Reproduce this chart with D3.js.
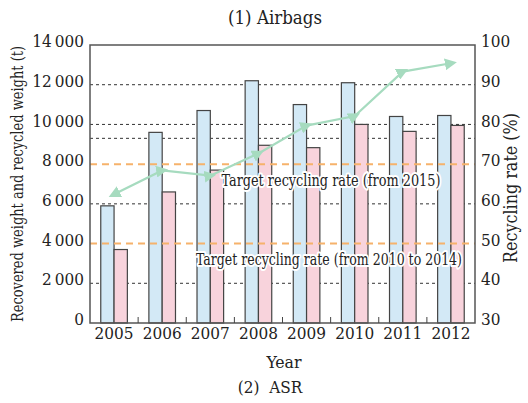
<!DOCTYPE html>
<html><head><meta charset="utf-8">
<script src="https://cdn.jsdelivr.net/npm/d3@7"></script>
<style>
body{margin:0;background:#fff;}
svg text{font-family:"DejaVu Serif",serif !important;font-stretch:condensed;fill:#222;}
</style></head>
<body><svg id="c" width="528" height="403"></svg>
<script>
const years = ["2005","2006","2007","2008","2009","2010","2011","2012"];
const recovered = [5900,9600,10700,12200,11000,12100,10400,10450];
const recycled = [3700,6600,7700,8950,8830,10000,9650,9950];
const rate = [62.4,68.4,67.1,72.7,79.7,82.1,93.3,95.4];
const leftTicks = [0,2000,4000,6000,8000,10000,12000,14000];
const rightTicks = [30,40,50,60,70,80,90,100];
const gridValues = [2000,6000,9300,10000,12000];
const targetValues = [8000,4000];
const targetLabels = ["Target recycling rate (from 2015)","Target recycling rate (from 2010 to 2014)"];

const svg = d3.select("#c");
const m = {l:90,r:475,t:45,b:323};
const x = d3.scaleBand().domain(years).range([m.l,m.r]);
const xi = d3.scaleBand().domain(["rec","cyc"]).range([0,26.6]);
const y = d3.scaleLinear().domain([0,14000]).range([m.b,m.t]);
const y2 = d3.scaleLinear().domain([30,100]).range([m.b,m.t]);
const fmt = d => d3.format(",")(d).replace(/,/g,"\u2009");

// grid
svg.append("g").selectAll("line").data(gridValues).join("line")
  .attr("x1",m.l).attr("x2",m.r).attr("y1",d=>y(d)).attr("y2",d=>y(d))
  .attr("stroke","#333").attr("stroke-width",1).attr("stroke-dasharray","3,3");

// bars
const g = svg.append("g");
years.forEach((yr,i)=>{
  const cx = x(yr)+x.bandwidth()/2-13.3;
  [["rec",recovered[i],"#d3e9f6"],["cyc",recycled[i],"#f8d3dc"]].forEach(([k,v,c])=>{
    g.append("rect").attr("x",cx+xi(k)).attr("y",y(v)).attr("width",xi.bandwidth()).attr("height",m.b-y(v))
     .attr("fill",c).attr("stroke","#444").attr("stroke-width",1.2);
  });
});

// target lines
svg.append("g").selectAll("line").data(targetValues).join("line")
  .attr("x1",m.l).attr("x2",m.r).attr("y1",d=>y(d)).attr("y2",d=>y(d))
  .attr("stroke","#f6b26b").attr("stroke-width",2).attr("stroke-dasharray","7,5");

// line with arrow markers
const defs = svg.append("defs");
defs.append("marker").attr("id","tri").attr("viewBox","0 0 10 10").attr("refX",5).attr("refY",5)
  .attr("orient","auto-start-reverse").attr("markerUnits","userSpaceOnUse")
  .attr("markerWidth",12).attr("markerHeight",12)
  .append("path").attr("d","M0,0L10,5L0,10Z").attr("fill","#a6dbbf");
svg.append("path").datum(rate)
  .attr("d",d3.line().x((d,i)=>x(years[i])+x.bandwidth()/2).y(d=>y2(d)))
  .attr("fill","none").attr("stroke","#a6dbbf").attr("stroke-width",2.2)
  .attr("marker-start","url(#tri)").attr("marker-mid","url(#tri)").attr("marker-end","url(#tri)");

// target labels with halo
const labelPos = [{x:331,y:186},{x:329,y:265}];
const labelLen = [219,266];
targetLabels.forEach((t,i)=>{
  svg.append("text").attr("x",labelPos[i].x).attr("y",labelPos[i].y).attr("text-anchor","middle")
    .attr("font-size",16.5).attr("stroke","#fff").attr("stroke-width",4).attr("stroke-linejoin","round")
    .attr("textLength",labelLen[i]).attr("lengthAdjust","spacingAndGlyphs").text(t);
  svg.append("text").attr("x",labelPos[i].x).attr("y",labelPos[i].y).attr("text-anchor","middle")
    .attr("font-size",16.5).attr("textLength",labelLen[i]).attr("lengthAdjust","spacingAndGlyphs").text(t);
});

// frame
svg.append("rect").attr("x",m.l).attr("y",m.t).attr("width",m.r-m.l).attr("height",m.b-m.t)
  .attr("fill","none").attr("stroke","#555").attr("stroke-width",1.5);

// axes
const ax = svg.append("g").attr("transform",`translate(0,${m.b})`)
  .call(d3.axisBottom(x).tickSize(0).tickPadding(4));
ax.select(".domain").remove();
ax.selectAll("text").attr("font-size",17);
svg.append("g").selectAll("line").data(years.slice(1)).join("line")
  .attr("x1",d=>x(d)).attr("x2",d=>x(d)).attr("y1",m.b).attr("y2",m.b-6).attr("stroke","#444");

const ay = svg.append("g").attr("transform",`translate(${m.l},0)`)
  .call(d3.axisLeft(y).tickValues(leftTicks).tickFormat(fmt).tickSize(0).tickPadding(6));
ay.select(".domain").remove();
ay.selectAll("text").attr("font-size",17).attr("dy","0.1em");

const ay2 = svg.append("g").attr("transform",`translate(${m.r},0)`)
  .call(d3.axisRight(y2).tickValues(rightTicks).tickSize(0).tickPadding(6));
ay2.select(".domain").remove();
ay2.selectAll("text").attr("font-size",17).attr("dy","0.1em");

// titles
svg.append("text").attr("x",275).attr("y",24).attr("text-anchor","middle").attr("font-size",18.5).text("(1) Airbags");
svg.append("text").attr("x",284).attr("y",368).attr("text-anchor","middle").attr("font-size",17.5).text("Year");
svg.append("text").attr("x",270).attr("y",393).attr("text-anchor","middle").attr("font-size",17).attr("xml:space","preserve").text("(2)  ASR");
svg.append("text").attr("transform",`translate(23,${(m.t+m.b)/2}) rotate(-90)`).attr("text-anchor","middle")
  .attr("font-size",16).attr("textLength",276).attr("lengthAdjust","spacingAndGlyphs").text("Recovered weight and recycled weight (t)");
svg.append("text").attr("transform",`translate(517,188) rotate(-90)`).attr("text-anchor","middle")
  .attr("font-size",18).attr("textLength",150).attr("lengthAdjust","spacingAndGlyphs").text("Recycling rate (%)");
</script></body></html>
